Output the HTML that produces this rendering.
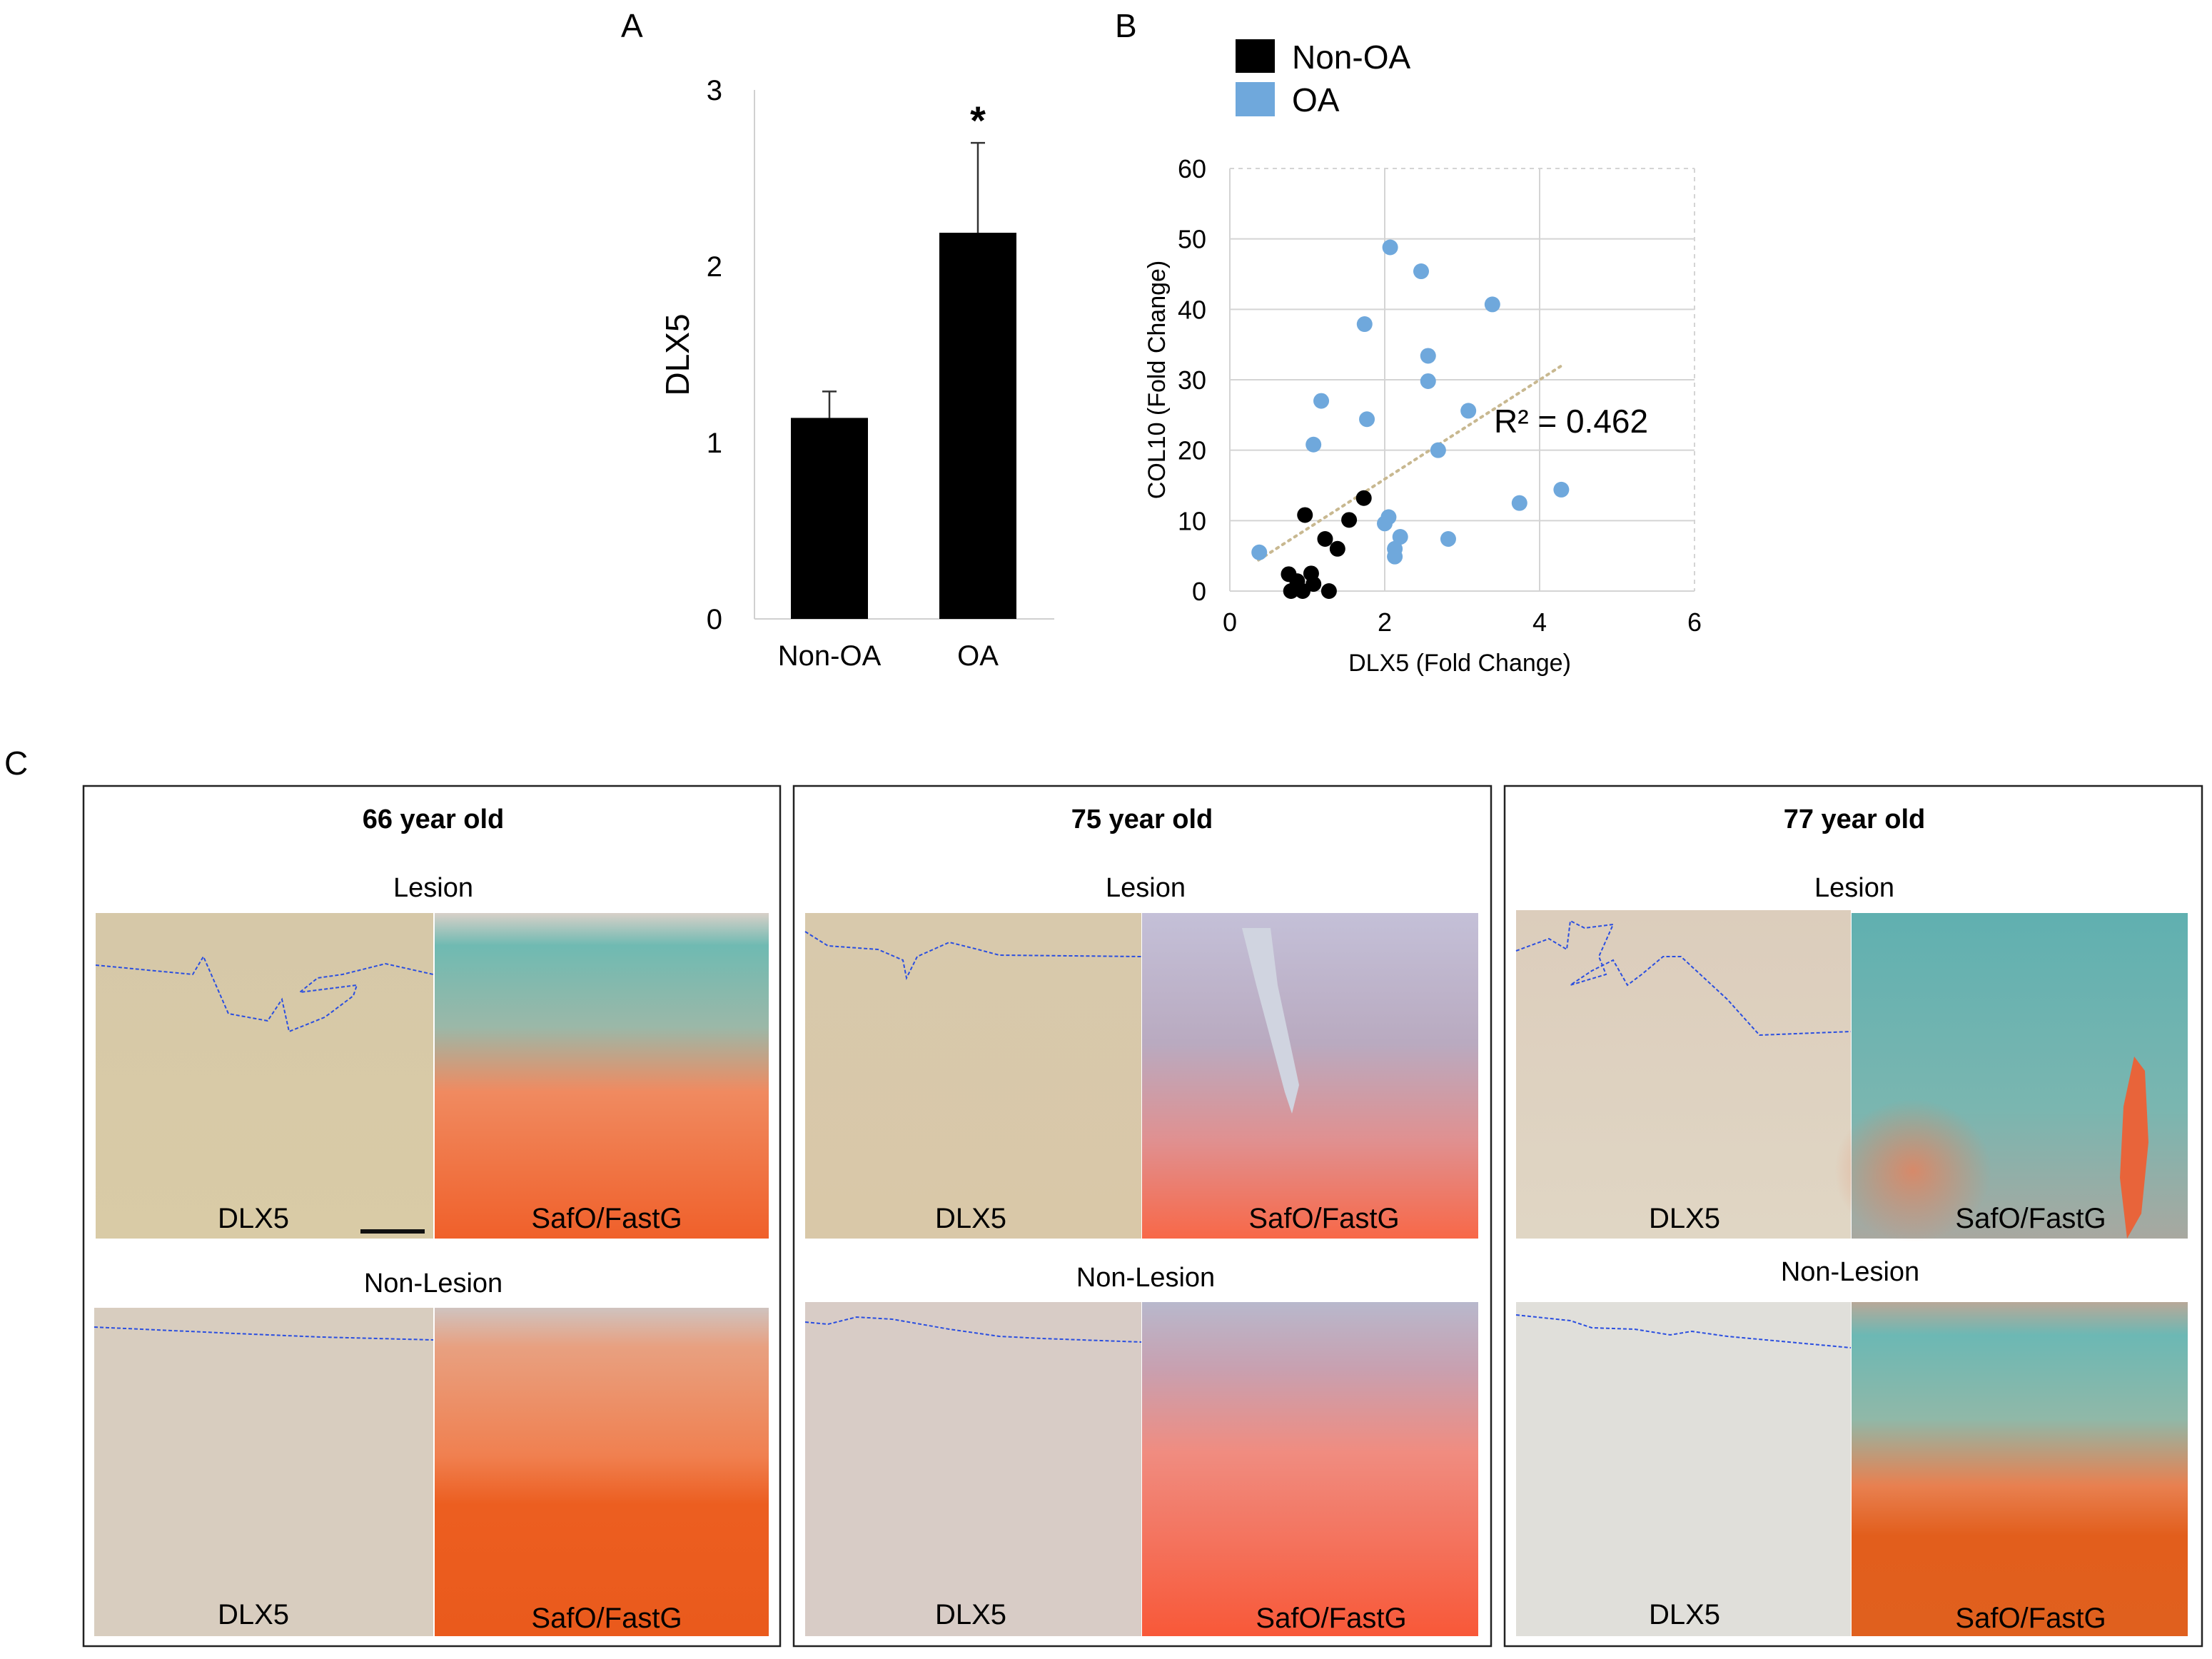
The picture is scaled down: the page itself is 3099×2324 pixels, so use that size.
<!DOCTYPE html>
<html><head><meta charset="utf-8"><style>
html,body{margin:0;padding:0;background:#fff;}
svg{display:block;font-family:"Liberation Sans",Arial,sans-serif;}
</style></head><body>
<svg id="fig" width="3099" height="2324" viewBox="0 0 3099 2324" xmlns="http://www.w3.org/2000/svg">
<defs>
<linearGradient id="dlxL1" x1="0" y1="0" x2="0" y2="1"><stop offset="0" stop-color="#d6c8a8"/><stop offset="1" stop-color="#d9cba6"/></linearGradient>
<linearGradient id="safL1" x1="0" y1="0" x2="0" y2="1"><stop offset="0" stop-color="#d8d0c8"/><stop offset="0.1" stop-color="#6fbab2"/><stop offset="0.35" stop-color="#9bb8a8"/><stop offset="0.55" stop-color="#f08a60"/><stop offset="1" stop-color="#f0602a"/></linearGradient>
<linearGradient id="safN1" x1="0" y1="0" x2="0" y2="1"><stop offset="0" stop-color="#cfc3bf"/><stop offset="0.12" stop-color="#e8a080"/><stop offset="0.45" stop-color="#f08050"/><stop offset="0.6" stop-color="#ec5e20"/><stop offset="1" stop-color="#ea5a1c"/></linearGradient>
<linearGradient id="dlxL2" x1="0" y1="0" x2="0" y2="1"><stop offset="0" stop-color="#d8c9ac"/><stop offset="1" stop-color="#d9c8a8"/></linearGradient>
<linearGradient id="safL2" x1="0" y1="0" x2="0" y2="1"><stop offset="0" stop-color="#c4c0d8"/><stop offset="0.4" stop-color="#b9aac0"/><stop offset="0.7" stop-color="#e09090"/><stop offset="1" stop-color="#f86848"/></linearGradient>
<linearGradient id="safN2" x1="0" y1="0" x2="0" y2="1"><stop offset="0" stop-color="#b8b8cc"/><stop offset="0.2" stop-color="#c8a0b0"/><stop offset="0.45" stop-color="#f08c80"/><stop offset="1" stop-color="#f85838"/></linearGradient>
<linearGradient id="dlxL3" x1="0" y1="0" x2="0" y2="1"><stop offset="0" stop-color="#dccdbc"/><stop offset="1" stop-color="#e0d6c4"/></linearGradient>
<linearGradient id="safL3" x1="0" y1="0" x2="0" y2="1"><stop offset="0" stop-color="#60b0b0"/><stop offset="0.6" stop-color="#7ab6b0"/><stop offset="1" stop-color="#a8a8a0"/></linearGradient>
<linearGradient id="safN3" x1="0" y1="0" x2="0" y2="1"><stop offset="0" stop-color="#b8a898"/><stop offset="0.1" stop-color="#6cb8b4"/><stop offset="0.35" stop-color="#90b8a8"/><stop offset="0.55" stop-color="#e88050"/><stop offset="0.7" stop-color="#e25e1c"/><stop offset="1" stop-color="#e0601e"/></linearGradient>
<radialGradient id="orangeBlob" cx="0.5" cy="0.5" r="0.5"><stop offset="0" stop-color="#e8805a" stop-opacity="0.8"/><stop offset="1" stop-color="#e8805a" stop-opacity="0"/></radialGradient>
</defs>

<text x="870" y="52" font-size="46">A</text>
<text x="1562" y="52" font-size="46">B</text>
<text x="6" y="1085" font-size="46">C</text>

<g id="barChart"></g>
<g id="scatter"></g>

<g id="panelC">
  <rect x="117" y="1101" width="976" height="1205" fill="none" stroke="#222" stroke-width="2.5"/>
  <text x="607" y="1160" font-size="38" font-weight="bold" text-anchor="middle">66 year old</text>
  <text x="607" y="1256" font-size="38" text-anchor="middle">Lesion</text>
  <rect x="134" y="1279" width="473" height="456" fill="url(#dlxL1)"/>
  <path d="M134,1352 L270,1365 L285,1340 L320,1420 L375,1430 L395,1400 L405,1445 L455,1425 L495,1395 L500,1380 L420,1390 L445,1370 L480,1365 L540,1350 L607,1365" fill="none" stroke="#2a4ee0" stroke-width="2" stroke-dasharray="5,3"/>
  <rect x="609" y="1279" width="468" height="456" fill="url(#safL1)"/>
  <text x="355" y="1720" font-size="40" text-anchor="middle">DLX5</text>
  <rect x="505" y="1722" width="90" height="6" fill="#111"/>
  <text x="850" y="1720" font-size="40" text-anchor="middle">SafO/FastG</text>
  <text x="607" y="1810" font-size="38" text-anchor="middle">Non-Lesion</text>
  <rect x="132" y="1832" width="475" height="460" fill="#d8cdbf"/>
  <path d="M132,1859 L330,1868 L450,1873 L607,1877" fill="none" stroke="#2a4ee0" stroke-width="2" stroke-dasharray="5,3"/>
  <rect x="609" y="1832" width="468" height="460" fill="url(#safN1)"/>
  <text x="355" y="2275" font-size="40" text-anchor="middle">DLX5</text>
  <text x="850" y="2280" font-size="40" text-anchor="middle">SafO/FastG</text>

  <rect x="1112" y="1101" width="977" height="1205" fill="none" stroke="#222" stroke-width="2.5"/>
  <text x="1600" y="1160" font-size="38" font-weight="bold" text-anchor="middle">75 year old</text>
  <text x="1605" y="1256" font-size="38" text-anchor="middle">Lesion</text>
  <rect x="1128" y="1279" width="471" height="456" fill="url(#dlxL2)"/>
  <path d="M1128,1305 L1160,1325 L1230,1330 L1265,1345 L1270,1370 L1285,1340 L1330,1320 L1370,1330 L1400,1338 L1599,1340" fill="none" stroke="#2a4ee0" stroke-width="2" stroke-dasharray="5,3"/>
  <rect x="1600" y="1279" width="471" height="456" fill="url(#safL2)"/>
  <path d="M1740,1300 L1760,1380 L1800,1530 L1810,1560 L1820,1520 L1790,1380 L1780,1300 Z" fill="#d0d4e0"/>
  <text x="1360" y="1720" font-size="40" text-anchor="middle">DLX5</text>
  <text x="1855" y="1720" font-size="40" text-anchor="middle">SafO/FastG</text>
  <text x="1605" y="1802" font-size="38" text-anchor="middle">Non-Lesion</text>
  <rect x="1128" y="1824" width="471" height="468" fill="#d8ccc6"/>
  <path d="M1128,1852 L1160,1855 L1200,1845 L1250,1848 L1330,1862 L1400,1872 L1460,1875 L1599,1880" fill="none" stroke="#2a4ee0" stroke-width="2" stroke-dasharray="5,3"/>
  <rect x="1600" y="1824" width="471" height="468" fill="url(#safN2)"/>
  <text x="1360" y="2275" font-size="40" text-anchor="middle">DLX5</text>
  <text x="1865" y="2280" font-size="40" text-anchor="middle">SafO/FastG</text>

  <rect x="2108" y="1101" width="977" height="1205" fill="none" stroke="#222" stroke-width="2.5"/>
  <text x="2598" y="1160" font-size="38" font-weight="bold" text-anchor="middle">77 year old</text>
  <text x="2598" y="1256" font-size="38" text-anchor="middle">Lesion</text>
  <rect x="2124" y="1275" width="469" height="460" fill="url(#dlxL3)"/>
  <path d="M2124,1332 L2170,1315 L2195,1330 L2200,1290 L2220,1300 L2260,1295 L2240,1340 L2250,1365 L2200,1380 L2230,1360 L2260,1345 L2280,1380 L2300,1365 L2330,1340 L2355,1340 L2420,1400 L2465,1450 L2593,1445" fill="none" stroke="#2a4ee0" stroke-width="2" stroke-dasharray="5,3"/>
  <rect x="2594" y="1279" width="471" height="456" fill="url(#safL3)"/>
  <ellipse cx="2680" cy="1640" rx="110" ry="100" fill="url(#orangeBlob)"/>
  <path d="M2990,1480 L3005,1500 L3010,1600 L3000,1700 L2980,1735 L2970,1650 L2975,1550 Z" fill="#e8643a"/>
  <text x="2360" y="1720" font-size="40" text-anchor="middle">DLX5</text>
  <text x="2845" y="1720" font-size="40" text-anchor="middle">SafO/FastG</text>
  <text x="2592" y="1794" font-size="38" text-anchor="middle">Non-Lesion</text>
  <rect x="2124" y="1824" width="469" height="468" fill="#e0dfda"/>
  <path d="M2124,1842 L2200,1850 L2230,1860 L2290,1862 L2340,1870 L2370,1865 L2420,1872 L2593,1888" fill="none" stroke="#2a4ee0" stroke-width="2" stroke-dasharray="5,3"/>
  <rect x="2594" y="1824" width="471" height="468" fill="url(#safN3)"/>
  <text x="2360" y="2275" font-size="40" text-anchor="middle">DLX5</text>
  <text x="2845" y="2280" font-size="40" text-anchor="middle">SafO/FastG</text>
</g>
</svg>
<script>
const NS = "http://www.w3.org/2000/svg";
const barCategories = ["Non-OA", "OA"];
const barValues = [1.14, 2.19];
const barErrors = [0.15, 0.51];
const barTicks = [0, 1, 2, 3];
const nonOAx = [0.97, 1.73, 1.54, 1.23, 1.39, 0.76, 1.05, 0.87, 1.08, 0.79, 0.94, 1.28];
const nonOAy = [10.8, 13.2, 10.1, 7.4, 6.0, 2.4, 2.5, 1.4, 1.0, 0.0, 0.0, 0.0];
const oaX = [0.38, 2.07, 2.47, 3.39, 1.74, 2.56, 2.56, 1.18, 3.08, 1.77, 1.08, 2.69, 4.28, 3.74, 2.05, 2.0, 2.2, 2.82, 2.13, 2.13];
const oaY = [5.5, 48.8, 45.4, 40.7, 37.9, 33.4, 29.8, 27.0, 25.6, 24.4, 20.8, 20.0, 14.4, 12.5, 10.5, 9.6, 7.7, 7.4, 6.0, 4.9];
const trendX = [0.37, 4.27];
const trendY = [4.4, 31.9];
const scatterXTicks = [0, 2, 4, 6];
const scatterYTicks = [0, 10, 20, 30, 40, 50, 60];

function mk(tag, attrs, parent) {
  const e = document.createElementNS(NS, tag);
  for (const k in attrs) e.setAttribute(k, attrs[k]);
  parent.appendChild(e);
  return e;
}

(function () {
  const g = document.getElementById("barChart");
  const y0 = 867, y3 = 126, axL = 1057, axR = 1477;
  const yS = v => y0 - (v / 3) * (y0 - y3);
  const centers = [1162, 1370];
  const bw = 108;
  let e = mk("line", { x1: axL, y1: y3, x2: axL, y2: y0, stroke: "#d0d0d0", "stroke-width": 2 }, g);
  
  
  e = mk("line", { x1: axL, y1: y0, x2: axR, y2: y0, stroke: "#d0d0d0", "stroke-width": 2 }, g);
  
  
  barTicks.forEach(t => {
    const tx = mk("text", { x: 1012, y: yS(t) + 14, "font-size": 40, "text-anchor": "end" }, g);
    tx.textContent = t;
    
    
  });
  const yt = mk("text", { x: 0, y: 0, "font-size": 46, "text-anchor": "middle", transform: "translate(965,497) rotate(-90)" }, g);
  yt.textContent = "DLX5";
  
  
  barCategories.forEach((c, i) => {
    const cx = centers[i];
    const top = yS(barValues[i] + barErrors[i]);
    const el = mk("line", { x1: cx, y1: top, x2: cx, y2: yS(barValues[i]), stroke: "#333", "stroke-width": 2.5 }, g);
    
    
    const cap = mk("line", { x1: cx - 10, y1: top, x2: cx + 10, y2: top, stroke: "#333", "stroke-width": 2.5 }, g);
    
    
    const r = mk("rect", { x: cx - bw / 2, y: yS(barValues[i]), width: bw, height: y0 - yS(barValues[i]), fill: "#000" }, g);
    
    
    const lb = mk("text", { x: cx, y: 932, "font-size": 40, "text-anchor": "middle" }, g);
    lb.textContent = c;
    
    
  });
  const st = mk("text", { x: centers[1], y: yS(barValues[1] + barErrors[1]) - 12, "font-size": 56, "text-anchor": "middle", "font-weight": "bold" }, g);
  st.textContent = "*";
  
  
})();

(function () {
  const g = document.getElementById("scatter");
  const xL = 1723, xR = 2374, yB = 828, yT = 236;
  const xS = v => xL + (v / 6) * (xR - xL);
  const yS = v => yB - (v / 60) * (yB - yT);
  scatterYTicks.forEach(t => {
    const gl = mk("line", { x1: xL, y1: yS(t), x2: xR, y2: yS(t), stroke: "#d4d4d4", "stroke-width": 2, "stroke-dasharray": t === 60 ? "6,6" : "none" }, g);
    
    
    const tx = mk("text", { x: 1690, y: yS(t) + 13, "font-size": 36, "text-anchor": "end" }, g);
    tx.textContent = t;
    
    
  });
  scatterXTicks.forEach(t => {
    const gl = mk("line", { x1: xS(t), y1: yT, x2: xS(t), y2: yB, stroke: "#d4d4d4", "stroke-width": 2, "stroke-dasharray": t === 6 ? "6,6" : "none" }, g);
    
    
    const tx = mk("text", { x: xS(t), y: 884, "font-size": 36, "text-anchor": "middle" }, g);
    tx.textContent = t;
    
    
  });
  const tl = mk("line", { x1: xS(trendX[0]), y1: yS(trendY[0]), x2: xS(trendX[1]), y2: yS(trendY[1]), stroke: "#c8b890", "stroke-width": 4, "stroke-dasharray": "3,7", "stroke-linecap": "round" }, g);
  
  
  oaX.forEach((x, i) => {
    const c = mk("circle", { cx: xS(x), cy: yS(oaY[i]), r: 11, fill: "#6fa8dc" }, g);
    
    
  });
  nonOAx.forEach((x, i) => {
    const c = mk("circle", { cx: xS(x), cy: yS(nonOAy[i]), r: 11, fill: "#000" }, g);
    
    
  });
  const r2 = mk("text", { x: 2093, y: 606, "font-size": 46 }, g);
  r2.textContent = "R² = 0.462";
  
  
  const yt = mk("text", { x: 0, y: 0, "font-size": 34, "text-anchor": "middle", transform: "translate(1632,532) rotate(-90)" }, g);
  yt.textContent = "COL10  (Fold Change)";
  
  
  const xt = mk("text", { x: 2045, y: 940, "font-size": 34, "text-anchor": "middle" }, g);
  xt.textContent = "DLX5  (Fold Change)";
  
  
  const l1 = mk("rect", { x: 1731, y: 55, width: 55, height: 47, fill: "#000" }, g);
  
  
  const t1 = mk("text", { x: 1810, y: 96, "font-size": 46 }, g);
  t1.textContent = "Non-OA";
  
  
  const l2 = mk("rect", { x: 1731, y: 115, width: 55, height: 48, fill: "#6fa8dc" }, g);
  
  
  const t2 = mk("text", { x: 1810, y: 156, "font-size": 46 }, g);
  t2.textContent = "OA";
  
  
})();
</script>
</body></html>
